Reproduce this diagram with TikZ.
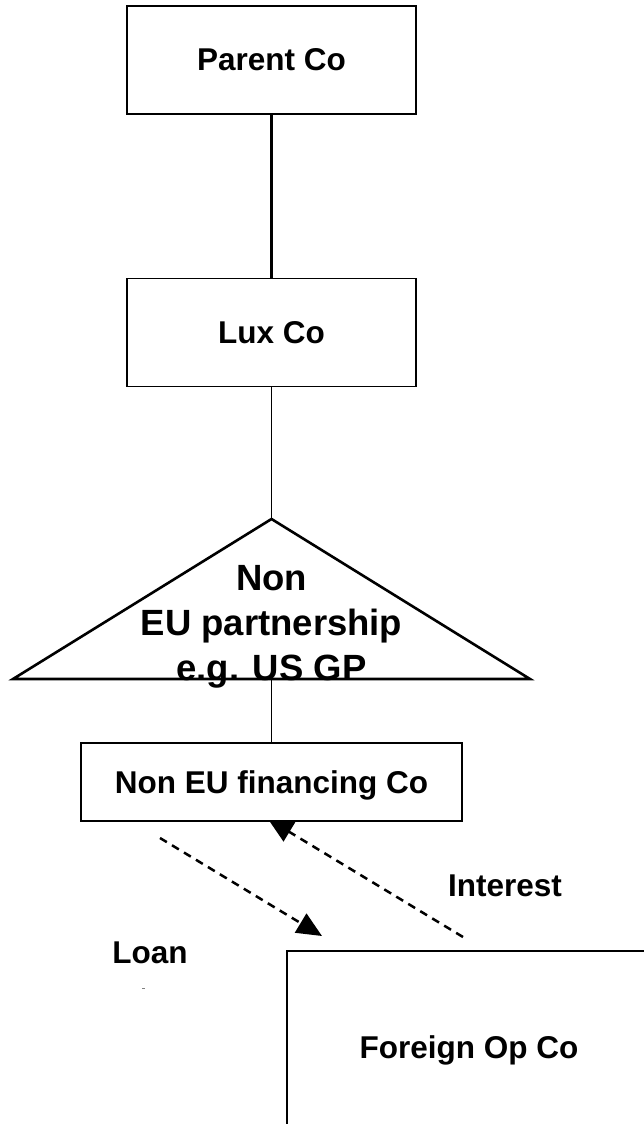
\documentclass[tikz,border=0pt]{standalone}
\usepackage{fontspec}
\setmainfont{Liberation Sans}
\usetikzlibrary{arrows.meta,backgrounds}

\newcommand\entfont{\fontsize{31.5}{36}\bfseries\selectfont}
\newcommand\trifont{\fontsize{36.5}{45}\bfseries\selectfont}

\tikzset{
  entity/.style={draw, fill=white, line width=1.9pt, inner sep=0pt,
                 font=\entfont, text depth=0pt},
  label/.style={font=\entfont, inner sep=0pt},
  link/.style={line width=1.3pt},
  flow/.style={line width=2.5pt, dash pattern=on 8pt off 6pt,
               -{Triangle[length=25pt,width=22pt]}},
  wedge/.style={line width=2.6pt, line join=miter},
}

\begin{document}
\begin{tikzpicture}[x=1pt,y=-1pt]
  \useasboundingbox (0,0) rectangle (644,1124);
  \clip (0,0) rectangle (644,1124);

  % company boxes
  \node[entity, minimum width=289pt, minimum height=108pt] (parent) at (271.5,60) {Parent Co};
  \node[entity, minimum width=289pt, minimum height=108pt] (lux) at (271.5,332.5) {Lux Co};
  \node[entity, line width=2.1pt, minimum width=381pt, minimum height=78pt] (fin) at (271.5,782) {Non EU financing Co};
  \node[entity, line width=2.1pt, minimum width=364pt, minimum height=193pt] (foreign) at (469,1047.5) {Foreign Op Co};

  % partnership triangle
  \coordinate (apex) at (271.5,519);
  \coordinate (bl) at (13,679);
  \coordinate (br) at (530,679);
  \coordinate (basemid) at (271.5,679);
  \draw[wedge] (apex) -- (br) -- (bl) -- cycle;
  \node[font=\trifont, align=center, inner sep=0pt, anchor=north] (partner) at (271.5,565)
    {Non\\EU partnership\\e.g. US GP};

  % ownership links
  \draw[line width=2.2pt] (parent.south) -- (lux.north);
  \draw[link] (lux.south) -- (apex);
  \draw[link] (basemid) -- (fin.north);

  % loan and interest flows
  \coordinate (loanstart) at (160,838);
  \coordinate (loanend) at (322,936);
  \coordinate (intstart) at (463,937);
  \coordinate (intend) at (268,819);
  \begin{scope}[on background layer]
    \draw[flow] (loanstart) -- (loanend);
    \draw[flow] (intstart) -- (intend);
  \end{scope}

  \node[label, anchor=base] (loan) at (150,963) {Loan};
  \node[label, anchor=base] (interest) at (505,896) {Interest};

  % small stray mark below the loan label
  \fill[gray] (142,987.5) rectangle (145,989);
\end{tikzpicture}
\end{document}
